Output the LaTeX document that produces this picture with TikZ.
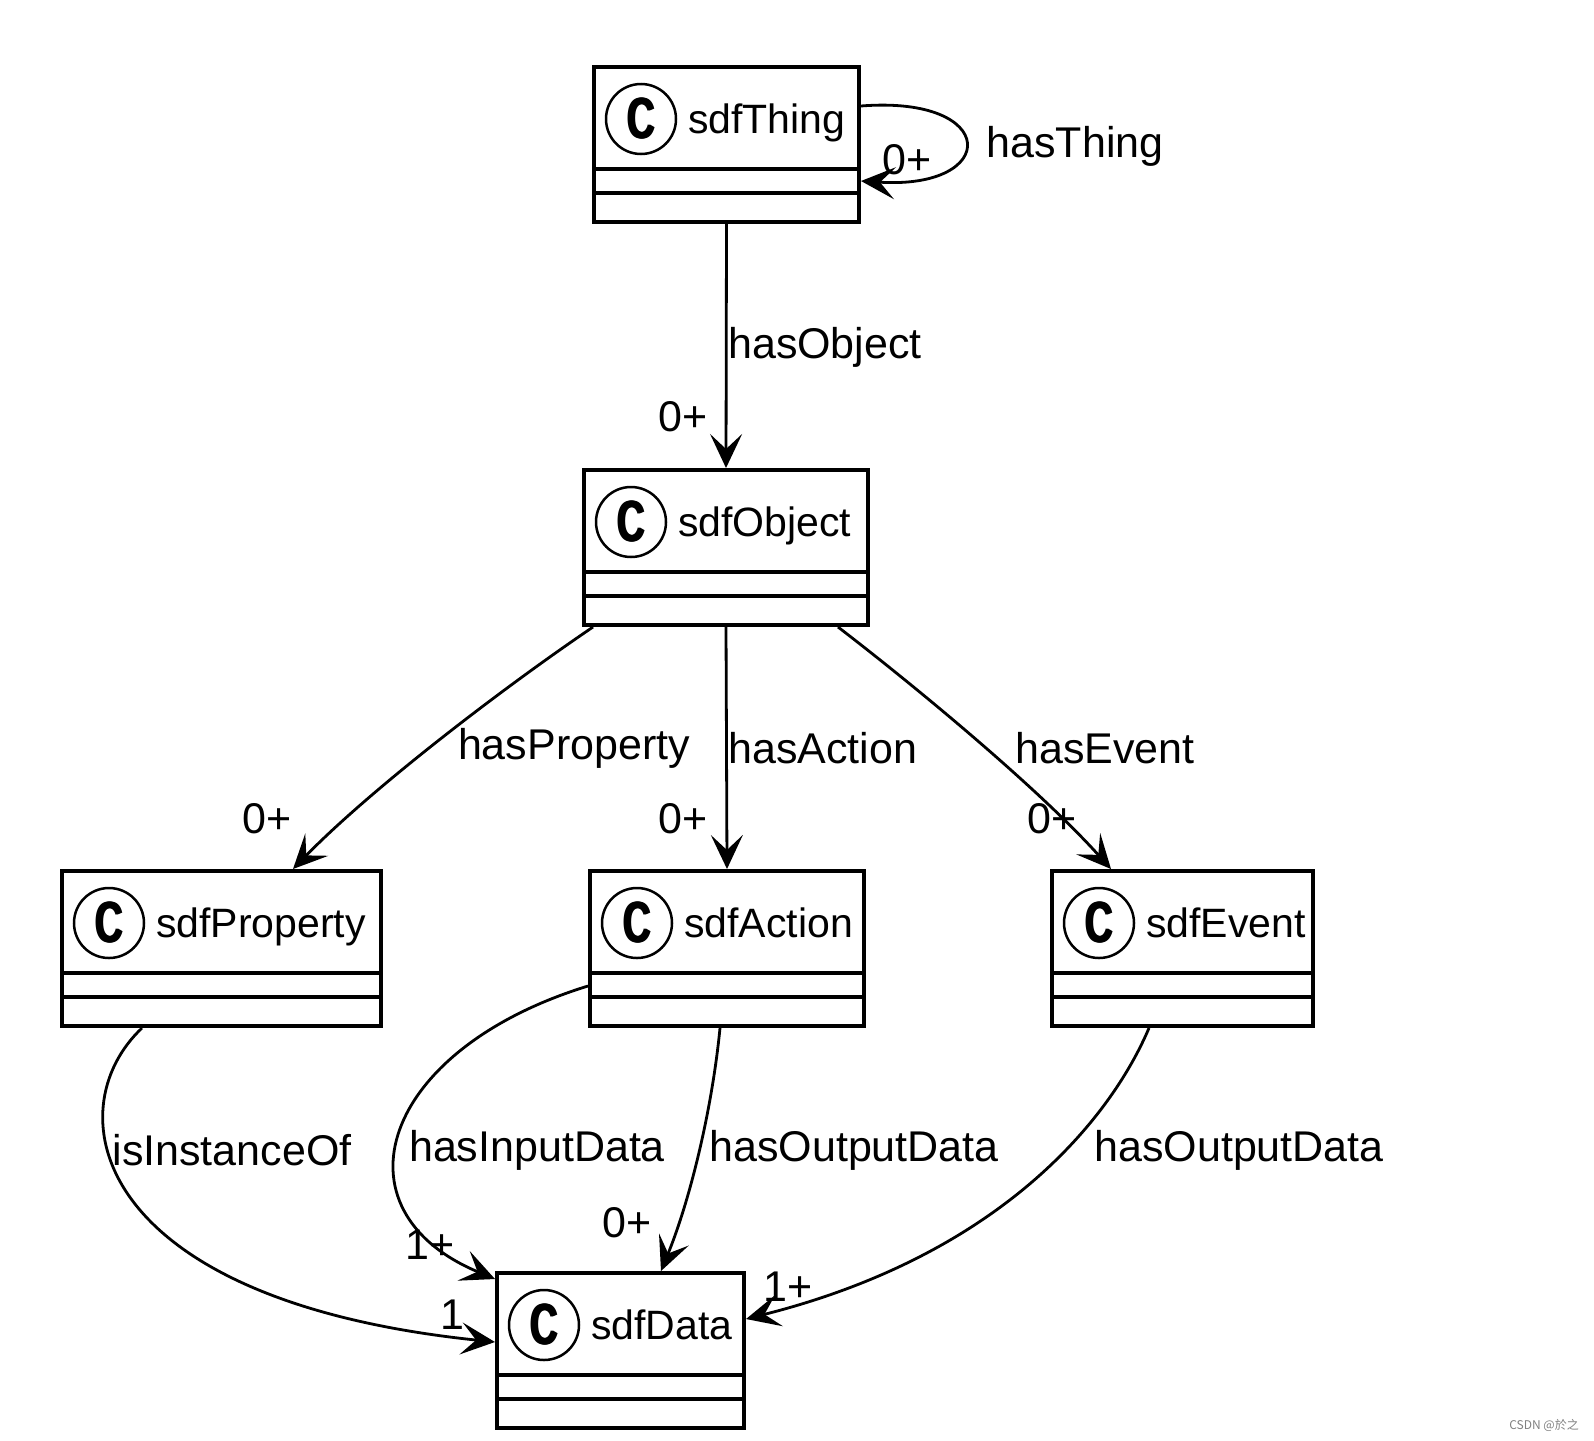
\documentclass[tikz,border=0pt]{standalone}
\usepackage{fontspec}
\usepackage{graphicx}
\setmainfont{Liberation Sans}
\newfontfamily\cjk{Noto Sans CJK SC}
\usetikzlibrary{arrows.meta,calc}

\tikzset{
  classbox/.style={draw, line width=4pt, anchor=north west, inner sep=0pt, minimum height=155pt},
  divider/.style={line width=3.5pt},
  badge/.style={draw, circle, line width=2.5pt, minimum size=70pt, inner sep=0pt},
  badgetext/.style={font=\bfseries\fontsize{58}{58}\selectfont, inner sep=0pt},
  cname/.style={font=\fontsize{41}{48}\selectfont, inner sep=0pt, anchor=base west},
  lbl/.style={font=\fontsize{43}{50}\selectfont, inner sep=0pt},
  conn/.style={line width=2.8pt, -{Stealth[length=34pt,width=32pt,inset=15pt]}},
}

\newcommand\heavyC{\scalebox{0.66}[1]{\rlap{C}\kern1.5pt\rlap{C}\kern1.5pt C}}

\newcommand\umlclass[5]{%
  \node[classbox, minimum width=#4pt] (#1) at (#2,#3) {};
  \draw[divider] ($(#1.north west)+(2,104)$) -- ($(#1.north east)+(-2,104)$);
  \draw[divider] ($(#1.north west)+(2,128)$) -- ($(#1.north east)+(-2,128)$);
  \node[badge] (#1c) at ($(#1.north west)+(49,54)$) {};
  \node[badgetext] (#1cl) at (#1c.center) {\heavyC};
  \node[cname] (#1n) at ($(#1.north west)+(96,68)$) {#5};
}

\begin{document}
\begin{tikzpicture}[x=1pt,y=-1pt]
\useasboundingbox (0,0) rectangle (1594,1440);

\umlclass{thing}{592}{65}{265}{sdfThing}
\umlclass{object}{582}{468}{284}{sdfObject}
\umlclass{property}{60}{869}{319}{sdfProperty}
\umlclass{action}{588}{869}{274}{sdfAction}
\umlclass{event}{1050}{869}{261}{sdfEvent}
\umlclass{data}{495}{1271}{247}{sdfData}

% hasThing self loop
\draw[conn] ($(thing.north east)+(0,41)$) .. controls (1000,95) and (1000,190) .. ($(thing.north east)+(0,116)$);
\node[lbl] (l1) at (907,160) {0+};
\node[lbl] (l2) at (1075,146) {hasThing};

% hasObject
\draw[conn] (thing.south) -- (object.north);
\node[lbl, anchor=west] (l3) at (728,347) {hasObject};
\node[lbl] (l4) at (683,417) {0+};

% hasProperty
\draw[conn] ($(object.south west)+(11,0)$) .. controls (500,690) and (370,790) .. ($(property.north west)+(233,0)$);
\node[lbl] (l5) at (574,748) {hasProperty};
\node[lbl] (l6) at (267,819) {0+};

% hasAction
\draw[conn] (object.south) -- (action.north);
\node[lbl, anchor=west] (l7) at (728,748) {hasAction};
\node[lbl] (l8) at (683,819) {0+};

% hasEvent
\draw[conn] ($(object.south east)+(-32,0)$) .. controls (920,690) and (1040,790) .. ($(event.north west)+(61,0)$);
\node[lbl] (l9) at (1105,748) {hasEvent};
\node[lbl] (l10) at (1052,819) {0+};

% isInstanceOf
\draw[conn] ($(property.south west)+(82,0)$) .. controls (55,1110) and (90,1300) .. ($(data.north west)+(0,71)$);
\node[lbl] (l11) at (232,1150) {isInstanceOf};
\node[lbl] (l12) at (452,1315) {1};

% hasInputData
\draw[conn] ($(action.north west)+(0,117)$) .. controls (380,1050) and (330,1210) .. ($(data.north west)+(0,8)$);
\node[lbl] (l13) at (537,1150) {hasInputData};
\node[lbl] (l14) at (430,1245) {1+};

% hasOutputData (action)
\draw[conn] ($(action.south west)+(132,0)$) .. controls (712,1110) and (690,1200) .. ($(data.north west)+(166,0)$);
\node[lbl] (l15) at (854,1150) {hasOutputData};
\node[lbl] (l16) at (627,1223) {0+};

% hasOutputData (event)
\draw[conn] ($(event.south west)+(99,0)$) .. controls (1110,1120) and (1000,1255) .. ($(data.north east)+(0,48)$);
\node[lbl] (l17) at (1239,1150) {hasOutputData};
\node[lbl] (l18) at (788,1287) {1+};

% watermark
\node[font=\cjk\fontsize{12}{12}\selectfont, text=gray, inner sep=0pt] (wm) at (1544,1425) {CSDN @於之};
\end{tikzpicture}
\end{document}
